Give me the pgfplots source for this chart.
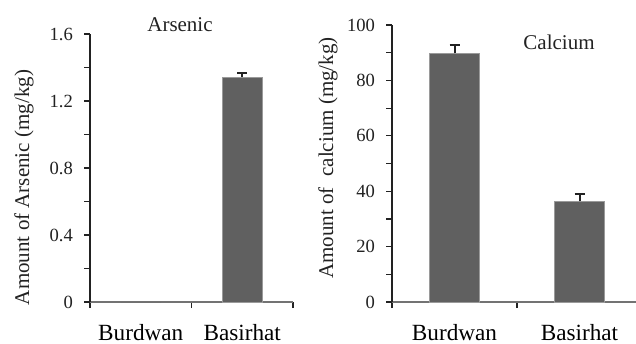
\documentclass[border=0pt]{standalone}
\usepackage{pgfplots}
\pgfplotsset{compat=1.18}
\usepackage{fontspec}
\setmainfont{Liberation Serif}
\definecolor{barfill}{HTML}{606060}
\definecolor{baredge}{HTML}{9A9A9A}
\definecolor{axcol}{HTML}{222222}
\begin{document}
\begin{tikzpicture}[x=0.5pt,y=0.5pt]
\useasboundingbox (0,0) rectangle (636,343);
\pgfplotsset{
 mystyle/.style={
  scale only axis,
  axis x line*=bottom, axis y line*=left,
  axis line style={-, axcol, line width=0.6pt},
  x axis line style={black!55},
  tick align=outside,
  major tick length=3pt, minor tick length=3pt,
  tick style={axcol, line width=0.6pt},
  xmin=0,xmax=2,ymin=0,
  xtick={0,1,2}, xticklabels={},
  extra x ticks={0.5,1.5},
  extra x tick labels={Burdwan,Basirhat},
  extra x tick style={major tick length=0pt, tick label style={anchor=base, yshift=-19pt, font=\fontsize{11.6}{13}\selectfont}},
  yticklabel style={font=\fontsize{9.3}{11}\selectfont, text=axcol, xshift=-2pt},
  /pgf/number format/assume math mode=true,
  minor y tick num=1,
  ybar, bar shift=0pt,
  clip=false,
 }
}
\begin{axis}[mystyle, at={(45pt,20.5pt)}, anchor=south west,
  width=101.5pt, height=134pt, ymax=1.6,
  ytick={0,0.4,0.8,1.2,1.6},
  yticklabels={0,0.4,0.8,1.2,1.6},
  bar width=20pt]
\addplot[fill=barfill, draw=none] coordinates {(0.5,0)};
\addplot[fill=barfill, draw=baredge, line width=0.4pt,
  error bars/.cd, y dir=plus, y explicit,
  error bar style={line width=1pt, axcol},
  error mark options={rotate=90, mark size=2.5pt, line width=1pt, axcol}]
  coordinates {(1.5,1.341) +- (0,0.024)};
\end{axis}
\begin{axis}[mystyle, at={(196pt,20.5pt)}, anchor=south west,
  width=125pt, height=138.5pt, ymax=100,
  ytick={0,20,40,60,80,100},
  bar width=25pt]
\addplot[fill=barfill, draw=baredge, line width=0.4pt,
  error bars/.cd, y dir=plus, y explicit,
  error bar style={line width=1pt, axcol},
  error mark options={rotate=90, mark size=2.5pt, line width=1pt, axcol}]
  coordinates {(0.5,89.8) +- (0,3.0) (1.5,36.3) +- (0,2.6)};
\end{axis}
\node[rotate=90, font=\fontsize{10.5}{12}\selectfont, text=axcol] at (24,155.5) {Amount of Arsenic (mg/kg)};
\node[rotate=90, font=\fontsize{10.5}{12}\selectfont, text=axcol] at (328,185) {Amount of\ \ calcium (mg/kg)};
\node[font=\fontsize{10.5}{12}\selectfont, text=axcol] at (180,318) {Arsenic};
\node[font=\fontsize{10.5}{12}\selectfont, text=axcol] at (559,301) {Calcium};
\end{tikzpicture}
\end{document}
